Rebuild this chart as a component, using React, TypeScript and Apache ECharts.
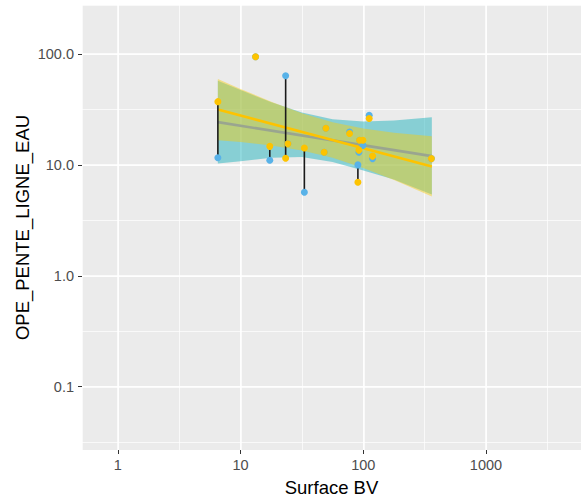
import React, { useEffect, useRef } from "react";
import * as echarts from "echarts";

// Sites (Surface BV) with the two measured values (blue / yellow)
const siteX = [6.53, 13.25, 17.3, 23.3, 24.3, 33.1, 48.0, 49.6, 77.3, 90.4, 92.1, 93.3, 99.3, 111.7, 119.1, 359];
const blueY = [11.6, 94.4, 11.0, 63.8, 15.5, 5.66, 13.0, 21.4, 19.8, 10.0, 13.0, 16.7, 15.0, 28.0, 11.4, 11.4];
const yellowY = [37.2, 94.4, 14.7, 11.5, 15.5, 14.2, 13.0, 21.4, 19.2, 6.97, 13.6, 16.7, 16.7, 26.2, 12.0, 11.4];

// Confidence bands
const bandX = [6.53, 10, 17.8, 31.6, 56.2, 100, 178, 362];
const tealUpper = [57.4, 47.3, 36.7, 29.7, 25.8, 24.6, 25.1, 26.9];
const tealLower = [10.3, 10.8, 11.6, 11.8, 10.6, 8.9, 7.4, 5.4];
const yellowUpper = [59.6, 48.5, 37.1, 29.3, 24.3, 21.3, 19.5, 18.1];
const yellowLower = [16.7, 16.1, 15.0, 13.5, 11.6, 9.4, 7.3, 5.2];

// Fitted lines
const fitX = [6.53, 362];
const blueFit = [24.3, 12.0];
const yellowFit = [31.6, 9.67];

const xTicks = [1, 10, 100, 1000];
const yTicks = [0.1, 1, 10, 100];
const xRange = [0.51, 5950];
const yRange = [0.0268, 277];

const FONT = "'Liberation Sans', Arial, sans-serif";

function bandSeries(upper: number[], lower: number[], color: string, z: number) {
  return {
    type: "custom",
    silent: true,
    z,
    data: [[bandX[0], upper[0]]],
    renderItem: (_p: any, api: any) => {
      const pts: number[][] = [];
      for (let i = 0; i < bandX.length; i++) pts.push(api.coord([bandX[i], upper[i]]));
      for (let i = bandX.length - 1; i >= 0; i--) pts.push(api.coord([bandX[i], lower[i]]));
      return { type: "polygon", shape: { points: pts }, style: { fill: color } };
    },
  };
}

export default function App() {
  const ref = useRef<HTMLDivElement>(null);
  useEffect(() => {
    if (!ref.current) return;
    const chart = echarts.init(ref.current, undefined, { renderer: "svg" });
    const majorAxisCommon = {
      type: "log",
      logBase: 10,
      axisLine: { show: false },
      axisTick: { show: true, length: 4, lineStyle: { color: "#333333", width: 1 } },
      splitLine: { show: true, lineStyle: { color: "#FFFFFF", width: 1.5 } },
      minorTick: { show: false },
      minorSplitLine: { show: false },
    };
    const minorAxisCommon = {
      type: "log",
      logBase: Math.sqrt(10),
      axisLine: { show: false },
      axisTick: { show: false },
      axisLabel: { show: false },
      splitLine: { show: true, lineStyle: { color: "#FFFFFF", width: 0.7 } },
    };
    chart.setOption({
      animation: false,
      backgroundColor: "#FFFFFF",
      grid: {
        left: 82,
        right: 4,
        top: 5,
        bottom: 50,
        show: true,
        backgroundColor: "#EBEBEB",
        borderWidth: 0,
      },
      xAxis: [
        {
          ...majorAxisCommon,
          min: xRange[0],
          max: xRange[1],
          axisTick: { ...majorAxisCommon.axisTick, customValues: xTicks },
          axisLabel: {
            customValues: xTicks,
            color: "#4D4D4D",
            fontSize: 14.5,
            fontFamily: FONT,
            margin: 7,
            formatter: (v: number) => String(Math.round(v)),
          },
          name: "Surface BV",
          nameLocation: "middle",
          nameGap: 28,
          nameMoveOverlap: false,
          nameTextStyle: { color: "#000000", fontSize: 18.5, fontFamily: FONT },
        },
        { ...minorAxisCommon, min: xRange[0], max: xRange[1], position: "top" },
      ],
      yAxis: [
        {
          ...majorAxisCommon,
          min: yRange[0],
          max: yRange[1],
          axisTick: { ...majorAxisCommon.axisTick, customValues: yTicks },
          axisLabel: {
            customValues: yTicks,
            color: "#4D4D4D",
            fontSize: 14.5,
            fontFamily: FONT,
            margin: 8,
            formatter: (v: number) => v.toFixed(1),
          },
          name: "OPE_PENTE_LIGNE_EAU",
          nameLocation: "middle",
          nameGap: 50,
          nameMoveOverlap: false,
          nameRotate: 90,
          nameTextStyle: { color: "#000000", fontSize: 18.5, fontFamily: FONT },
        },
        { ...minorAxisCommon, min: yRange[0], max: yRange[1], position: "right" },
      ],
      series: [
        bandSeries(tealUpper, tealLower, "rgba(35,180,190,0.5)", 2),
        {
          type: "line",
          z: 3,
          data: fitX.map((x, i) => [x, blueFit[i]]),
          showSymbol: false,
          silent: true,
          lineStyle: { color: "rgb(78,134,250)", width: 2.6 },
        },
        bandSeries(yellowUpper, yellowLower, "rgba(249,203,14,0.45)", 4),
        {
          type: "line",
          z: 5,
          data: fitX.map((x, i) => [x, yellowFit[i]]),
          showSymbol: false,
          silent: true,
          lineStyle: { color: "#FDC300", width: 2.6 },
        },
        {
          type: "custom",
          z: 6,
          silent: true,
          data: siteX.map((x, i) => [x, blueY[i], yellowY[i]]),
          encode: { x: 0, y: [1, 2] },
          renderItem: (_p: any, api: any) => {
            const x = api.value(0);
            const p1 = api.coord([x, api.value(1)]);
            const p2 = api.coord([x, api.value(2)]);
            return {
              type: "line",
              shape: { x1: p1[0], y1: p1[1], x2: p2[0], y2: p2[1] },
              style: { stroke: "#1A1A1A", lineWidth: 1.6 },
            };
          },
        },
        {
          type: "scatter",
          z: 7,
          data: siteX.map((x, i) => [x, blueY[i]]),
          symbolSize: 7,
          itemStyle: { color: "#58B2E8", opacity: 1 },
        },
        {
          type: "scatter",
          z: 8,
          data: siteX.map((x, i) => [x, yellowY[i]]),
          symbolSize: 7,
          itemStyle: { color: "#FDC300", opacity: 1 },
        },
      ],
    });
    return () => chart.dispose();
  }, []);
  return (
    <div
      ref={ref}
      style={{ position: "fixed", left: 0, top: 0, width: 585, height: 502 }}
    />
  );
}
